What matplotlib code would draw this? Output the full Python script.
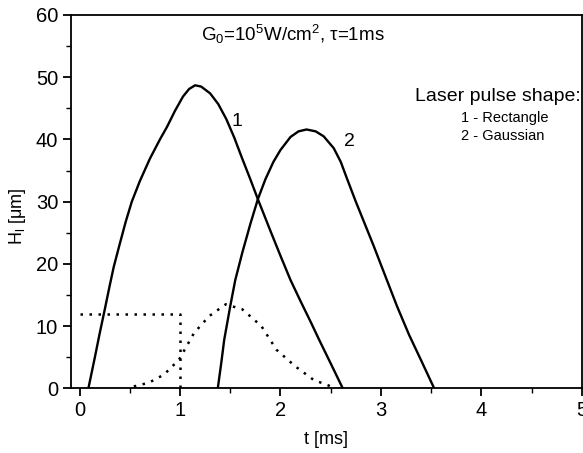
import matplotlib
matplotlib.use("Agg")
import matplotlib.pyplot as plt
from matplotlib.ticker import MultipleLocator

plt.rcParams['font.family'] = ['Liberation Sans', 'DejaVu Sans']
plt.rcParams['mathtext.fontset'] = 'custom'
plt.rcParams['mathtext.rm'] = 'Liberation Sans'
plt.rcParams['mathtext.it'] = 'Liberation Sans'

# Melt depth for a rectangular pulse (curve 1)
t_rect = [0.088, 0.15, 0.20, 0.25, 0.30, 0.34, 0.40, 0.46, 0.52, 0.60, 0.70,
          0.80, 0.87, 0.95, 1.03, 1.09, 1.15, 1.21, 1.30, 1.38, 1.46, 1.54,
          1.615, 1.70, 1.775, 1.90, 2.00, 2.10, 2.20, 2.30, 2.385, 2.50, 2.62]
h_rect = [0.0, 4.8, 8.8, 12.6, 16.5, 19.5, 23.2, 26.8, 30.0, 33.3, 36.9,
          40.0, 42.0, 44.6, 46.9, 48.1, 48.7, 48.5, 47.4, 45.7, 43.3, 40.3,
          37.1, 33.6, 30.4, 25.3, 21.3, 17.4, 14.0, 10.7, 7.8, 4.0, 0.0]

# Melt depth for a Gaussian pulse (curve 2)
t_gauss = [1.376, 1.41, 1.44, 1.50, 1.55, 1.62, 1.70, 1.775, 1.85, 1.93,
           2.00, 2.10, 2.18, 2.26, 2.35, 2.43, 2.53, 2.60, 2.66, 2.75, 2.84,
           2.93, 3.04, 3.16, 3.28, 3.40, 3.53]
h_gauss = [0.0, 4.0, 7.8, 13.2, 17.4, 21.8, 26.4, 30.4, 33.6, 36.4,
           38.3, 40.4, 41.3, 41.6, 41.3, 40.5, 38.6, 36.4, 33.8, 30.0, 26.4,
           22.8, 18.2, 13.2, 8.6, 4.5, 0.0]

# Pulse shapes (arbitrary units)
t_pulse_rect = [0.0, 1.0, 1.0]
p_pulse_rect = [12.0, 12.0, 0.0]
t_pulse_gauss = [0.54, 0.69, 0.84, 0.99, 1.14, 1.29, 1.455, 1.62, 1.81, 1.96,
                 2.15, 2.33, 2.52]
p_pulse_gauss = [0.3, 0.9, 2.2, 4.6, 8.9, 11.6, 13.5, 12.7, 10.0, 6.2,
                 3.5, 1.35, 0.2]

x_ticks = [0, 1, 2, 3, 4, 5]
y_ticks = [0, 10, 20, 30, 40, 50, 60]

fig = plt.figure(figsize=(5.83, 4.53), dpi=100)
ax = fig.add_axes([0.1213, 0.1428, 0.8767, 0.8241])

ax.plot(t_rect, h_rect, color='black', lw=1.7)
ax.plot(t_gauss, h_gauss, color='black', lw=1.7)
dot = (0, (1, 2.6))
ax.plot(t_pulse_rect, p_pulse_rect, color='black', lw=1.8, linestyle=dot)
ax.plot(t_pulse_gauss, p_pulse_gauss, color='black', lw=1.8, linestyle=dot)
ax.plot([0.0, 3.5], [0, 0], color='black', lw=1.0)

ax.set_xlim(-0.088, 5.0)
ax.set_ylim(0, 60)
ax.set_xticks(x_ticks)
ax.set_yticks(y_ticks)
ax.xaxis.set_minor_locator(MultipleLocator(0.5))
ax.yaxis.set_minor_locator(MultipleLocator(5))
ax.tick_params(which='major', direction='out', length=6, width=1.3,
               labelsize=14.5, pad=3)
ax.tick_params(which='minor', direction='out', length=3.5, width=1.0)
for s in ax.spines.values():
    s.set_linewidth(1.3)

ax.set_xlabel('t [ms]', fontsize=13, labelpad=8)
fig.text(18 / 583, 1 - 216 / 453, r'H$_\mathregular{l}$ [$\mathregular{\mu}$m]',
         fontsize=13, rotation=90, ha='center', va='center')

ax.text(2.12, 56.9, r'G$_\mathregular{0}$=10$^\mathregular{5}$W/cm$^\mathregular{2}$, $\mathregular{\tau}$=1ms',
        fontsize=13.5, ha='center', va='center')
ax.text(1.565, 42.85, '1', fontsize=14, ha='center', va='center')
ax.text(2.69, 39.6, '2', fontsize=14, ha='center', va='center')

ax.text(4.99, 46.9, 'Laser pulse shape:', fontsize=14, ha='right', va='center')
ax.text(4.23, 43.4, '1 - Rectangle', fontsize=10.5, ha='center', va='center')
ax.text(4.21, 40.5, '2 - Gaussian', fontsize=10.5, ha='center', va='center')

fig.savefig('out.png', dpi=100)
